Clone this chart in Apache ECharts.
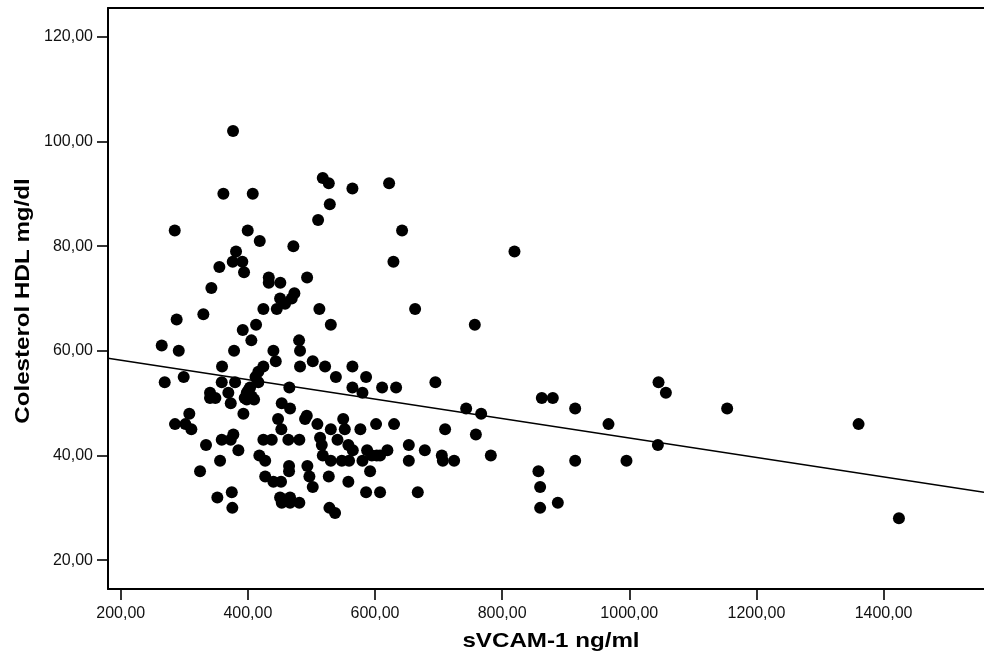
<!DOCTYPE html>
<html>
<head>
<meta charset="utf-8">
<script src="https://cdn.jsdelivr.net/npm/echarts@6/dist/echarts.min.js"></script>
<style>
  html, body { margin: 0; padding: 0; background: #fff; }
  #chart { width: 984px; height: 659px; }
</style>
</head>
<body>
<div id="chart"></div>
<script>
// sVCAM-1 (ng/ml) per subject
const svcam = [
  376.7, 361.5, 407.7, 285, 399.8, 418.7, 471.6, 381.4, 376.2, 391.3, 394, 355.2, 432.9, 432.9, 451.1, 493.2,
  342.6, 473.2, 469, 450.7, 458.5, 445.5, 424.4, 512.5, 330, 288, 530.5, 412.9, 392, 405.5, 480.6, 264.5,
  517.8, 527.3, 528.9, 510.5, 564.5, 622.2, 642.6, 629, 819.4, 663.1, 757,
  291.3, 378.3, 440.2, 482.1, 443.9, 482.1, 502.1, 521.5, 538.5, 359.4, 424.4, 416.5, 269.2, 299.1, 358.9, 379.9,
  416.5, 403.5, 340.5, 340.5, 348.9, 369.3, 373.1, 398.3, 398.3, 406.1, 409.8, 393, 465.3, 453.3, 466.4, 307.9,
  285.4, 301.7, 311.1, 447.5, 452.7, 492.7, 490, 509.4, 530.5, 550, 513.6, 541, 516.3, 517.9, 530.5, 547.8,
  558.1, 527.3, 424.4, 437.6, 463.7, 481, 377.2, 358.9, 373.1, 385.1, 334.2, 356.3, 324.8, 418.1, 427.3, 464.8,
  464.8, 493.6, 496.8, 502.1, 427.3, 440.2, 452.2, 450.7, 453.3, 466.4, 466.4, 481, 528.3, 537.2, 352, 374.7, 375.6,
  412, 401, 395,
  564.5, 586, 564.5, 580.3, 611.2, 633.2, 695, 743.4, 767, 862.4, 879.7, 914.9, 552.5, 577, 601.7, 630,
  710.3, 758.7, 558.1, 565.1, 587.6, 602.8, 619.5, 653.2, 678.4, 559.2, 580.3, 595, 608, 653.2, 705.1, 706.7,
  724.5, 782.2, 592.3, 586, 608, 667.3, 857.1, 859.8, 859.8, 887.6, 914.9,
  967.3, 1046, 1057.6, 1154, 1360.7, 995.6, 1045, 1424.2
];

// Colesterol HDL (mg/dl) per subject, same order
const hdl = [
  102, 90, 90, 83, 83, 81, 80, 79, 77, 77, 75, 76, 74, 73, 73, 74,
  72, 71, 70, 70, 69, 68, 68, 68, 67, 66, 65, 65, 64, 62, 62, 61,
  93, 92, 88, 85, 91, 92, 83, 77, 79, 68, 65,
  60, 60, 60, 60, 58, 57, 58, 57, 55, 57, 57, 56, 54, 55, 54, 54,
  54, 53, 52, 51, 51, 52, 50, 52, 50.7, 51.3, 50.7, 48, 53, 50, 49, 48,
  46, 46, 45, 47, 45, 47.6, 47, 46, 45, 47, 43.4, 43, 42, 40, 39, 39,
  35, 36, 43, 43, 43, 43, 44, 43, 43, 41, 42, 39, 37, 40, 39, 38,
  37, 38, 36, 34, 36, 35, 35, 32, 31, 32, 31, 31, 30, 29, 32, 33, 30,
  55, 52.5, 51,
  57, 55, 53, 52, 53, 53, 54, 49, 48, 51, 51, 49, 45, 45, 46, 46,
  45, 44, 42, 41, 41, 40, 41, 42, 41, 39, 39, 40, 40, 39, 40, 39,
  39, 40, 37, 33, 33, 33, 37, 34, 30, 31, 39,
  46, 54, 52, 49, 46, 39, 42, 28
];

// Linear fit line, read at the two ends of the x range
const fitX = [180, 1558];
const fitY = [58.6, 33.0];

// Axis tick values
const xTicks = [200, 400, 600, 800, 1000, 1200, 1400];
const yTicks = [20, 40, 60, 80, 100, 120];

const points = svcam.map((x, i) => [x, hdl[i]]);
const fitLine = fitX.map((x, i) => [x, fitY[i]]);

const FONT = '"Liberation Sans", Arial, sans-serif';
const fmt = v => v.toFixed(2).replace('.', ',');
const X_MIN = 180, X_MAX = 1558;

const chart = echarts.init(document.getElementById('chart'), null, { renderer: 'canvas' });

const frameLine = { color: '#000', width: 2 };

chart.setOption({
  animation: false,
  backgroundColor: '#ffffff',
  grid: { left: 108, top: 8, right: 0, bottom: 70, show: false },
  xAxis: [
    {
      type: 'value', position: 'bottom',
      min: X_MIN, max: X_MAX,
      axisLine: { show: true, onZero: false, lineStyle: frameLine },
      axisTick: { show: true, customValues: xTicks, length: 11, lineStyle: { color: '#000', width: 1.6 } },
      axisLabel: {
        customValues: xTicks, formatter: fmt, color: '#111',
        fontFamily: FONT, fontSize: 16, margin: 17
      },
      splitLine: { show: false }
    },
    {
      // top edge of the frame
      type: 'value', position: 'top',
      min: X_MIN, max: X_MAX,
      axisLine: { show: true, onZero: false, lineStyle: frameLine },
      axisTick: { show: false },
      axisLabel: { show: false },
      splitLine: { show: false }
    }
  ],
  yAxis: {
    type: 'value',
    min: 14.5, max: 125.5,
    axisLine: { show: true, onZero: false, lineStyle: frameLine },
    axisTick: { show: true, customValues: yTicks, length: 11, lineStyle: { color: '#000', width: 1.6 } },
    axisLabel: {
      customValues: yTicks, formatter: fmt, color: '#111',
      fontFamily: FONT, fontSize: 16, margin: 15
    },
    splitLine: { show: false }
  },
  graphic: [
    {
      type: 'text', x: 551, y: 641, scaleX: 1.15,
      style: {
        text: 'sVCAM-1 ng/ml', fill: '#000', font: 'bold 21px ' + FONT,
        textAlign: 'center', textVerticalAlign: 'middle'
      }
    },
    {
      type: 'text', x: 23, y: 301, rotation: Math.PI / 2, scaleX: 1.15,
      style: {
        text: 'Colesterol HDL mg/dl', fill: '#000', font: 'bold 21px ' + FONT,
        textAlign: 'center', textVerticalAlign: 'middle'
      }
    }
  ],
  series: [
    {
      type: 'line',
      data: fitLine,
      symbol: 'none',
      lineStyle: { color: '#000', width: 1.5 },
      clip: true,
      z: 1
    },
    {
      type: 'scatter',
      data: points,
      symbol: 'circle',
      symbolSize: 12,
      itemStyle: { color: '#000', opacity: 1 },
      clip: true,
      z: 2
    }
  ]
});
</script>
</body>
</html>
